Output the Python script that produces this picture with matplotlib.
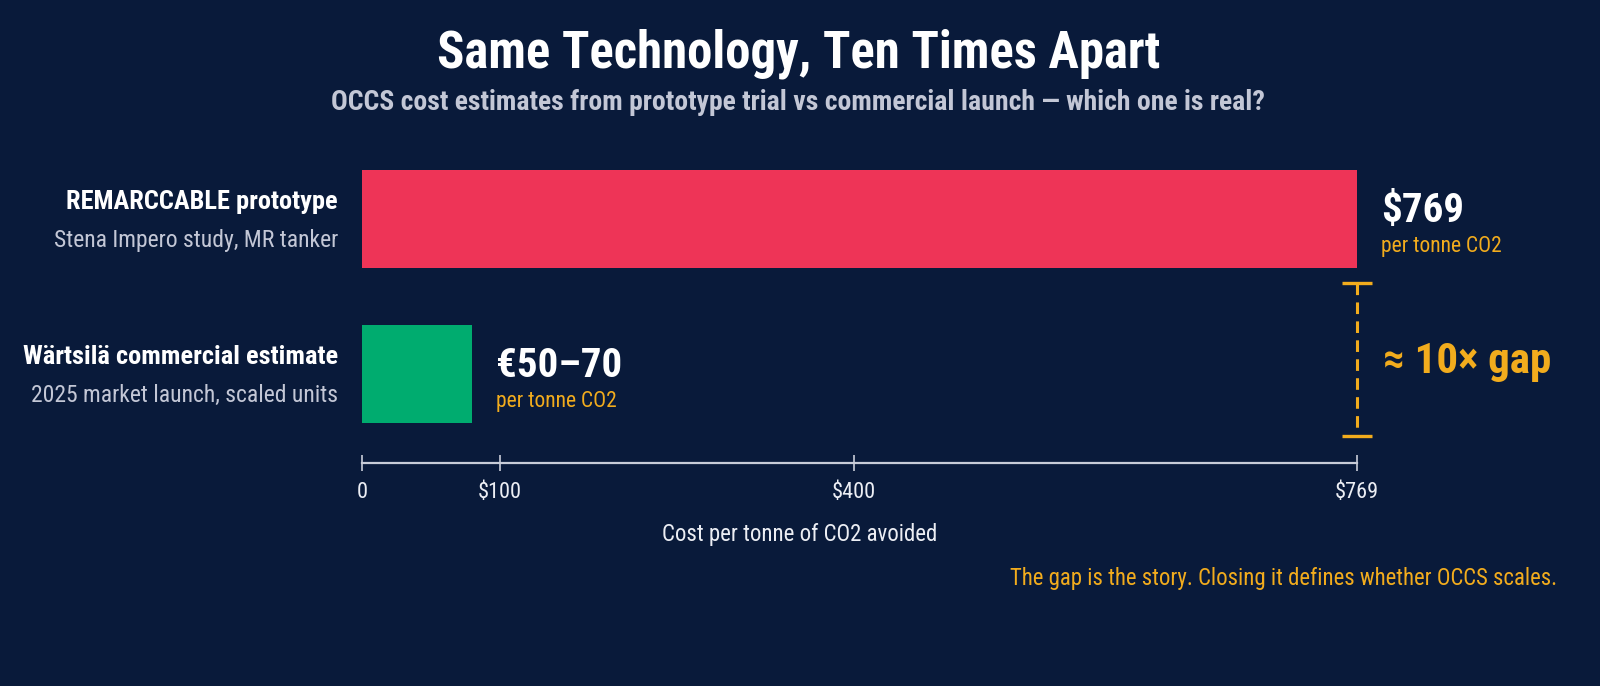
import numpy as np
import matplotlib
matplotlib.use("Agg")
import matplotlib.pyplot as plt
from matplotlib import font_manager

# --- данные ---
labels = ["REMARCCABLE prototype", "Wärtsilä commercial estimate"]
sublabels = ["Stena Impero study, MR tanker", "2025 market launch, scaled units"]
costs = [769, 80]          # USD per tonne CO2 (второй ~ €50–70)
value_text = ["$769", "€50–70"]
bar_colors = ["#ee3457", "#00ac6f"]
tick_values = [0, 100, 400, 769]
tick_labels = ["0", "$100", "$400", "$769"]
# ось в оригинале неравномерная: положения делений (доля длины оси)
tick_share = [0.0, 0.1387, 0.4945, 1.0]

BG = "#091a3a"
ORANGE = "#f2ac1d"
MUTED = "#c3c7d6"

# узкий шрифт, если есть
have = {f.name for f in font_manager.fontManager.ttflist}
family = [f for f in ['Roboto Condensed', 'Archivo Narrow', 'Liberation Sans Narrow',
                      'Asap Condensed'] if f in have][:1] + ['DejaVu Sans']
plt.rcParams['font.family'] = family


def fwd(x):
    return np.interp(x, tick_values, tick_share)


def inv(s):
    return np.interp(s, tick_share, tick_values)


fig = plt.figure(figsize=(16, 6.86), dpi=100, facecolor=BG)
W, H = 1600, 686
ax = fig.add_axes([362 / W, 1 - 463 / H, (1357 - 362) / W, (463 - 150) / H])
ax.set_facecolor(BG)
ax.set_xscale('function', functions=(fwd, inv))
ax.set_xlim(0, 769)
ax.set_ylim(1.574, -0.445)

y = np.arange(len(costs))
ax.barh(y, costs, height=0.626, color=bar_colors, left=0)

# ось
for s in ['top', 'right', 'left']:
    ax.spines[s].set_visible(False)
ax.spines['bottom'].set_color("#c8ccd8")
ax.spines['bottom'].set_linewidth(1.6)
ax.set_yticks([])
ax.set_xticks(tick_values)
ax.set_xticklabels(tick_labels)
ax.tick_params(axis='x', direction='inout', length=12, width=1.2, color="#c8ccd8",
               labelcolor="#eceef4", labelsize=16, pad=8)
ax.set_xlabel("Cost per tonne of CO2 avoided", color="#eceef4", fontsize=16.5, labelpad=14)
ax.xaxis.label.set_x((800 - 362) / (1357 - 362))   # по центру рисунка, как в оригинале

# подписи категорий
for i in range(len(costs)):
    ax.annotate(labels[i], (0, i), xytext=(-24, 10), textcoords='offset pixels',
                ha='right', va='baseline', color='white', fontsize=19, fontweight='bold',
                annotation_clip=False)
    ax.annotate(sublabels[i], (0, i), xytext=(-24, -28), textcoords='offset pixels',
                ha='right', va='baseline', color=MUTED, fontsize=17,
                annotation_clip=False)
    ax.annotate(value_text[i], (costs[i], i), xytext=(24, -3), textcoords='offset pixels',
                ha='left', va='baseline', color='white', fontsize=29.5, fontweight='bold',
                annotation_clip=False)
    ax.annotate("per tonne CO2", (costs[i], i), xytext=(24, -33), textcoords='offset pixels',
                ha='left', va='baseline', color=ORANGE, fontsize=15.5,
                annotation_clip=False)

# скобка разрыва
gx = costs[0]
ax.plot([gx, gx], [0.41, 1.4], color=ORANGE, lw=2.2, ls=(0, (3.8, 2.4)), clip_on=False)
ax.plot([gx, gx], [0.41, 1.4], ls='none', marker='_', ms=21, mew=2.4, color=ORANGE,
        clip_on=False)
ax.annotate("≈ 10× gap", (gx, 0.905), xytext=(26, -2), textcoords='offset pixels',
            ha='left', va='center', color=ORANGE, fontsize=31, fontweight='bold',
            annotation_clip=False)

# заголовки
fig.text(0.499, 1 - 54 / H, "Same Technology, Ten Times Apart", ha='center', va='center',
         color='white', fontsize=36.5, fontweight='bold')
fig.text(0.4985, 1 - 103 / H,
         "OCCS cost estimates from prototype trial vs commercial launch — which one is real?",
         ha='center', va='center', color=MUTED, fontsize=20, fontweight='bold')
fig.text(1557 / W, 1 - 578 / H, "The gap is the story. Closing it defines whether OCCS scales.",
         ha='right', va='center', color=ORANGE, fontsize=16.4)

fig.savefig("out.png", dpi=100, facecolor=BG)
